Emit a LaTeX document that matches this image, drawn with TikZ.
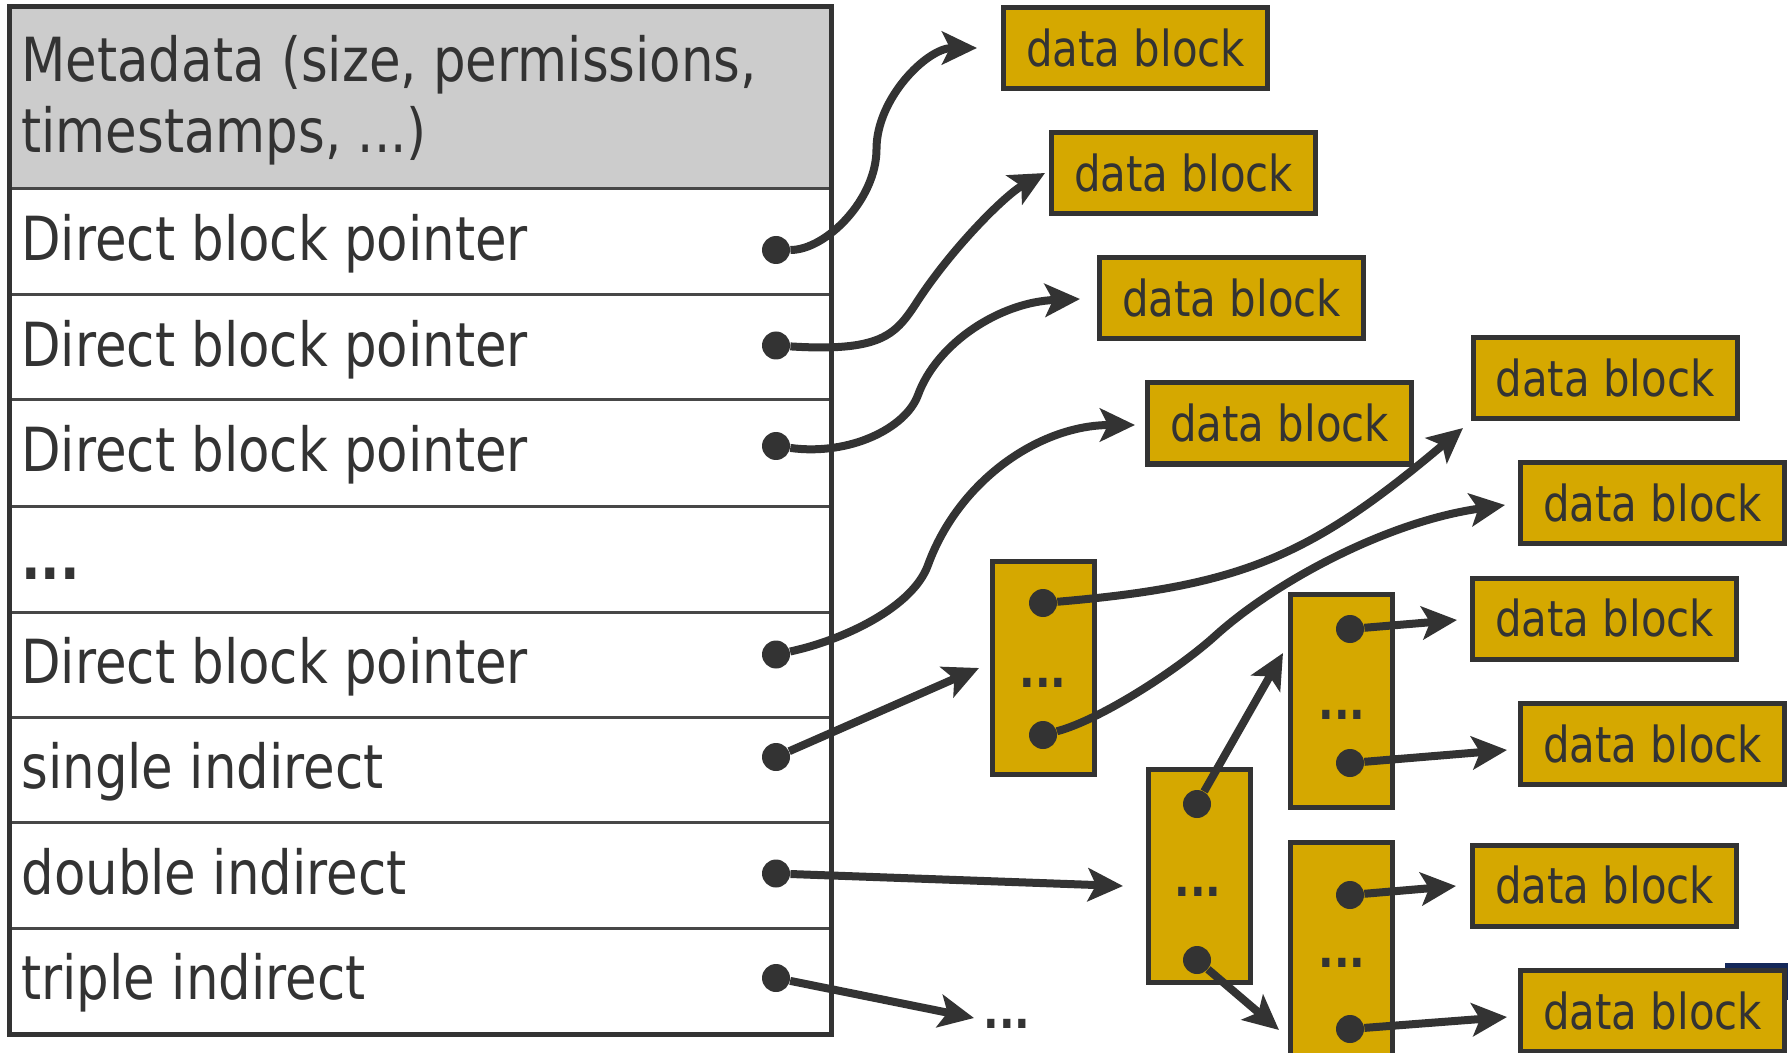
\documentclass[tikz,border=0pt]{standalone}
\usepackage{fontspec}
\usetikzlibrary{arrows.meta}
\newfontfamily\dvfont{DejaVu Sans}[FakeStretch=0.845]
\definecolor{ink}{HTML}{333333}
\definecolor{gold}{HTML}{D5A800}
\definecolor{metagray}{HTML}{CCCCCC}
\definecolor{navy}{HTML}{14285A}

\begin{document}
\begin{tikzpicture}[x=0.5pt, y=-0.5pt,
  rowlabel/.style={anchor=base west, inner sep=0pt, text=ink,
    font=\dvfont\fontsize{30.4}{36}\selectfont},
  rowdots/.style={anchor=base west, inner sep=0pt, text=ink,
    font=\dvfont\bfseries\fontsize{30.4}{36}\selectfont},
  datablk/.style={draw=ink, line width=2.5pt, fill=gold, minimum width=132pt,
    minimum height=40.5pt, inner sep=0pt, text=ink,
    font=\dvfont\fontsize{24.8}{29}\selectfont},
  ptrblk/.style={draw=ink, line width=2.5pt, fill=gold, minimum width=51pt,
    minimum height=106.5pt, inner sep=0pt},
  ellip/.style={inner sep=0pt, text=ink, font=\dvfont\bfseries\fontsize{24.3}{29}\selectfont},
  ptr/.style={circle, fill=ink, minimum size=14pt, inner sep=0pt},
  link/.style={draw=ink, line width=4pt,
    -{Stealth[length=17.5pt, width=16.5pt, inset=4pt]}},
]
\useasboundingbox (0,0) rectangle (1788,1053);

% strip of a shape lying behind the last data block
\fill[navy] (1725,963) rectangle (1788,1000);

% inode table
\fill[metagray] (9,7) rectangle (831,189);
\foreach \y in {189,295,400,506,612,717,822,928}
  \draw[ink!90, line width=1.5pt] (9,\y) -- (831,\y);
\draw[ink, line width=2.5pt] (9,7) rectangle (831,1034);

\node[rowlabel] (meta1) at (21,82)  {Metadata (size, permissions,};
\node[rowlabel] (meta2) at (21,153) {timestamps, ...)};
\node[rowlabel] (lbl1) at (21,261)   {Direct block pointer};
\node[rowlabel] (lbl2) at (21,366.5) {Direct block pointer};
\node[rowlabel] (lbl3) at (21,472)   {Direct block pointer};
\node[rowdots]  (lbl4) at (21,579)   {...};
\node[rowlabel] (lbl5) at (21,683.5) {Direct block pointer};
\node[rowlabel] (lbl6) at (21,788.5) {single indirect};
\node[rowlabel] (lbl7) at (21,894)   {double indirect};
\node[rowlabel] (lbl8) at (21,999)   {triple indirect};

% data blocks
\node[datablk] (db1)  at (1135.5,48)    {data block};
\node[datablk] (db2)  at (1183.5,173.5) {data block};
\node[datablk] (db3)  at (1231.5,298.5) {data block};
\node[datablk] (db4)  at (1279.5,423.5) {data block};
\node[datablk] (db5)  at (1605,378.5)   {data block};
\node[datablk] (db6)  at (1652.5,503)   {data block};
\node[datablk] (db7)  at (1604.5,618.5) {data block};
\node[datablk] (db8)  at (1652.5,744)   {data block};
\node[datablk] (db9)  at (1604.5,885.5) {data block};
\node[datablk] (db10) at (1652.5,1011)  {data block};

% indirect blocks
\node[ptrblk] (ind1) at (1043.5,668) {};
\node[ptrblk] (ind2) at (1199,875.5) {};
\node[ptrblk] (ind3) at (1341.5,700.5) {};
\node[ptrblk] (ind4) at (1341.5,949) {};
\node[ellip] (el1) at (1043,683) {...};
\node[ellip] (el2) at (1198,892) {...};
\node[ellip] (el3) at (1342,715) {...};
\node[ellip] (el4) at (1342,963) {...};
\node[ellip] (el5) at (1007,1024) {...};

% pointer dots
\node[ptr] (p1) at (776,250) {};
\node[ptr] (p2) at (776,345.5) {};
\node[ptr] (p3) at (776,446) {};
\node[ptr] (p5) at (776,654.5) {};
\node[ptr] (p6) at (776,757) {};
\node[ptr] (p7) at (776,873.5) {};
\node[ptr] (p8) at (776,978) {};
\node[ptr] (q1) at (1043,603) {};
\node[ptr] (q2) at (1043,735) {};
\node[ptr] (q3) at (1197,804) {};
\node[ptr] (q4) at (1197,960) {};
\node[ptr] (q5) at (1350,629) {};
\node[ptr] (q6) at (1350,763) {};
\node[ptr] (q7) at (1350,895) {};
\node[ptr] (q8) at (1350,1029) {};

% arrow ends
\coordinate (t1) at (977,48);
\coordinate (t2) at (1045,173);
\coordinate (t3) at (1080,299);
\coordinate (t5) at (1135,425);
\coordinate (t6) at (979,668);
\coordinate (t7) at (1123,886);
\coordinate (t8) at (974,1018);
\coordinate (u1) at (1463,428);
\coordinate (u2) at (1505,505);
\coordinate (u3) at (1283,653);
\coordinate (u4) at (1279,1030);
\coordinate (u5) at (1457,620);
\coordinate (u6) at (1507,750);
\coordinate (u7) at (1456,886);
\coordinate (u8) at (1507,1017);

% direct pointers
\draw[link] (p1) .. controls (826,250) and (876.5,199.5) .. (876.5,149)
                 .. controls (876.5,98.5) and (927,48) .. (t1);
\draw[link] (p2) .. controls (880,352) and (895,335) .. (915,305)
                 .. controls (950,250) and (1005,195) .. (t2);
\draw[link] (p3) .. controls (850,456) and (906,428) .. (918,395)
                 .. controls (937,343) and (1000,302) .. (t3);
\draw[link] (p5) .. controls (844,640) and (913,607) .. (928,565)
                 .. controls (959,480) and (1040,425) .. (t5);

% indirect pointers
\draw[link] (p6) -- (t6);
\draw[link] (p7) -- (t7);
\draw[link] (p8) -- (t8);
\draw[link] (q1) .. controls (1242,586) and (1310,557) .. (u1);
\draw[link] (q2) .. controls (1101,719.5) and (1178,669.5) .. (1215,636)
                 .. controls (1274,582.5) and (1386,521.7) .. (u2);
\draw[link] (q3) -- (u3);
\draw[link] (q4) -- (u4);
\draw[link] (q5) -- (u5);
\draw[link] (q6) -- (u6);
\draw[link] (q7) -- (u7);
\draw[link] (q8) -- (u8);
\end{tikzpicture}
\end{document}
